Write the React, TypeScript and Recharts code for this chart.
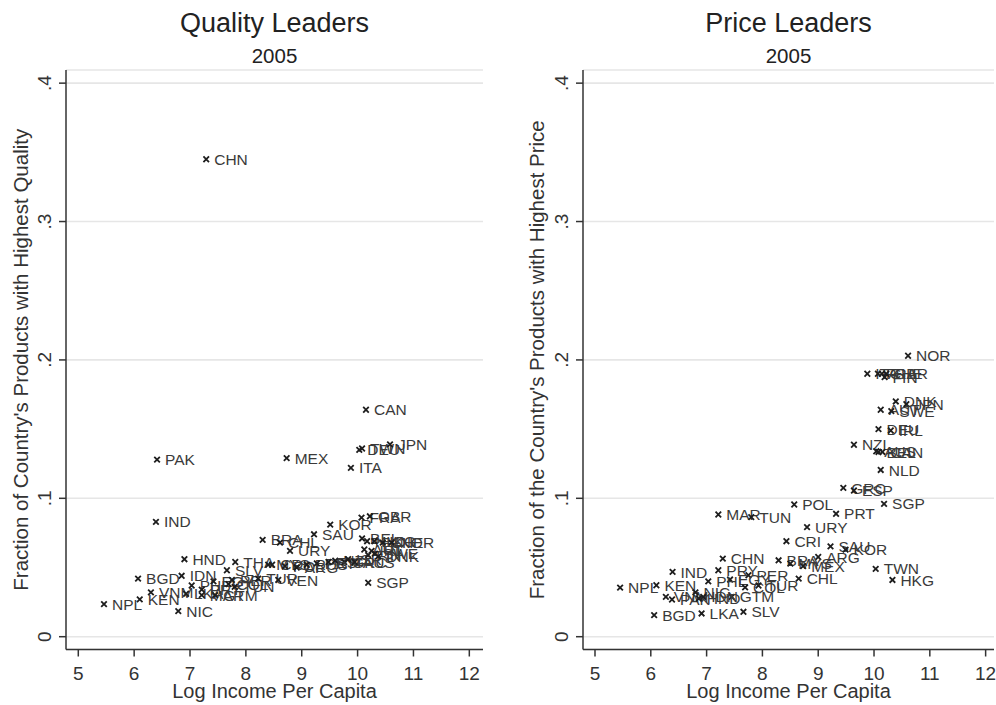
import { CartesianGrid, Scatter, ScatterChart, XAxis, YAxis } from 'recharts';

const FONT = '"Liberation Sans", Arial, Helvetica, sans-serif';

const incomeTicks = [5, 6, 7, 8, 9, 10, 11, 12];
const shareTicks = [0, 0.1, 0.2, 0.3, 0.4];

// Quality leaders, 2005
const qualityNames = [
  'CHN', 'CAN', 'PAK', 'MEX', 'DEU', 'TWN', 'JPN', 'ITA', 'IND', 'SGP', 'FRA', 'GBR', 'KOR', 'SAU', 'BRA',
  'CHL', 'URY', 'HND', 'BGD', 'IDN', 'VNM', 'KEN', 'NPL', 'NIC', 'LKA', 'MAR', 'GTM', 'PHL', 'PRY', 'EGY',
  'COL', 'PER', 'TUN', 'TUR', 'VEN', 'SLV', 'THA', 'CRI', 'MYS', 'POL', 'ARG', 'RUS', 'PRT', 'GRC', 'NZL',
  'ESP', 'ISR', 'AUS', 'BEL', 'NLD', 'HKG', 'CHE', 'NOR', 'AUT', 'IRL', 'FIN', 'SWE', 'DNK',
];
const qualityIncome = [
  7.29, 10.15, 6.41, 8.73, 10.03, 10.08, 10.58, 9.88, 6.39, 10.19, 10.07, 10.22, 9.51, 9.22, 8.3,
  8.61, 8.79, 6.9, 6.07, 6.85, 6.3, 6.1, 5.46, 6.79, 6.93, 7.21, 7.45, 7.03, 7.21, 7.42,
  7.69, 7.75, 7.8, 8.22, 8.58, 7.66, 7.81, 8.47, 8.4, 8.7, 8.91, 9.09, 9.27, 9.76, 9.6,
  9.48, 9.83, 9.95, 10.08, 10.17, 10.3, 10.45, 10.61, 10.12, 10.25, 10.19, 10.31, 10.37,
];
const qualityShare = [
  0.345, 0.164, 0.128, 0.129, 0.135, 0.136, 0.139, 0.122, 0.083, 0.039, 0.086, 0.087, 0.081, 0.074, 0.07,
  0.068, 0.062, 0.056, 0.042, 0.044, 0.032, 0.027, 0.0235, 0.0185, 0.031, 0.03, 0.03, 0.037, 0.034, 0.04,
  0.038, 0.041, 0.036, 0.042, 0.041, 0.048, 0.054, 0.052, 0.052, 0.051, 0.05, 0.052, 0.053, 0.054, 0.055,
  0.054, 0.056, 0.054, 0.071, 0.069, 0.069, 0.068, 0.068, 0.063, 0.062, 0.059, 0.06, 0.058,
];

// Price leaders, 2005
const priceNames = [
  'NOR', 'ITA', 'FRA', 'CHE', 'FIN', 'GBR', 'DNK', 'JPN', 'AUT', 'SWE', 'DEU', 'IRL', 'NZL', 'AUS', 'BEL',
  'CAN', 'NLD', 'GRC', 'ESP', 'SGP', 'POL', 'PRT', 'MAR', 'TUN', 'URY', 'CRI', 'SAU', 'KOR', 'ARG', 'BRA',
  'MYS', 'MEX', 'CHL', 'TWN', 'HKG', 'CHN', 'PRY', 'PER', 'EGY', 'PHL', 'COL', 'TUR', 'GTM', 'SLV', 'LKA',
  'NPL', 'KEN', 'IND', 'BGD', 'VNM', 'PAK', 'NIC', 'HND', 'IDN',
];
const priceIncome = [
  10.61, 9.88, 10.07, 10.14, 10.19, 10.22, 10.39, 10.58, 10.12, 10.31, 10.08, 10.3, 9.64, 10.04, 10.08,
  10.15, 10.12, 9.45, 9.64, 10.18, 8.57, 9.32, 7.21, 7.8, 8.8, 8.43, 9.22, 9.49, 9.0, 8.29,
  8.5, 8.73, 8.65, 10.03, 10.33, 7.29, 7.21, 7.75, 7.42, 7.03, 7.69, 7.93, 7.45, 7.66, 6.91,
  5.45, 6.1, 6.39, 6.06, 6.27, 6.38, 6.8, 6.86, 6.94,
];
const priceShare = [
  0.203, 0.19, 0.19, 0.19, 0.1876, 0.19, 0.17, 0.168, 0.164, 0.163, 0.15, 0.149, 0.1387, 0.134, 0.1335,
  0.1335, 0.1205, 0.1075, 0.1056, 0.096, 0.0955, 0.0888, 0.0883, 0.0864, 0.0792, 0.069, 0.0653, 0.0629, 0.0576, 0.0552,
  0.0528, 0.051, 0.042, 0.049, 0.041, 0.0564, 0.048, 0.0444, 0.0413, 0.04, 0.0356, 0.037, 0.0288, 0.018, 0.0168,
  0.0355, 0.0372, 0.0468, 0.0156, 0.0288, 0.0269, 0.032, 0.0276, 0.0288,
];

const toPoints = (names: string[], xs: number[], ys: number[]) =>
  names.map((name, i) => ({ name, income: xs[i], share: ys[i] }));

const fmtShare = (v: number) => (v === 0 ? '0' : String(v).replace(/^0\./, '.'));

function CrossLabel(props: any) {
  const { cx, cy, payload } = props;
  const s = 2.8;
  return (
    <g>
      <path
        d={`M${cx - s},${cy - s}L${cx + s},${cy + s}M${cx - s},${cy + s}L${cx + s},${cy - s}`}
        stroke="#1e1e1e"
        strokeWidth={1.8}
      />
      <text x={cx + 8} y={cy} dy="0.36em" fontSize={15.5} fill="#3a3a3a" fontFamily={FONT}>
        {payload.name}
      </text>
    </g>
  );
}

function ShareTick(props: any) {
  const { x, y, payload } = props;
  return (
    <text
      x={x}
      y={y}
      transform={`rotate(-90 ${x} ${y})`}
      textAnchor="middle"
      fontSize={19}
      fill="#333"
      fontFamily={FONT}
    >
      {fmtShare(payload.value)}
    </text>
  );
}

interface PanelProps {
  left: number;
  title: string;
  yTitle: string;
  points: { name: string; income: number; share: number }[];
  axisWidth: number;
  rightMargin: number;
  xDomain: [number, number];
  yTitleOffset: number;
}

function Panel({ left, title, yTitle, points, axisWidth, rightMargin, xDomain, yTitleOffset }: PanelProps) {
  const width = 498;
  const height = 705;
  const plotLeft = axisWidth;
  const plotRight = width - rightMargin;
  const centre = (plotLeft + plotRight) / 2;
  return (
    <div style={{ position: 'absolute', left, top: 0, width, height }}>
      <svg width={width} height={70} style={{ position: 'absolute', left: 0, top: 0 }}>
        <text x={centre} y={32} textAnchor="middle" fontSize={27} fill="#222" fontFamily={FONT}>
          {title}
        </text>
        <text x={centre} y={63} textAnchor="middle" fontSize={20.5} fill="#222" fontFamily={FONT}>
          2005
        </text>
      </svg>
      <ScatterChart
        width={width}
        height={height}
        margin={{ top: 70, right: rightMargin, bottom: 0, left: 0 }}
        style={{ fontFamily: FONT }}
      >
        <CartesianGrid vertical={false} stroke="#e6e6e6" strokeWidth={1.6} />
        <XAxis
          type="number"
          dataKey="income"
          domain={xDomain}
          allowDataOverflow
          ticks={incomeTicks}
          height={55.5}
          tickSize={7}
          tickMargin={10}
          stroke="#333"
          strokeWidth={1.5}
          tick={{ fontSize: 19, fill: '#333', fontFamily: FONT }}
          label={{
            value: 'Log Income Per Capita',
            position: 'insideBottom',
            offset: 7.5,
            fontSize: 20,
            fill: '#333',
            fontFamily: FONT,
          }}
        />
        <YAxis
          type="number"
          dataKey="share"
          domain={[-0.00925, 0.4095]}
          allowDataOverflow
          ticks={shareTicks}
          width={axisWidth}
          tickSize={7}
          tickMargin={8}
          stroke="#333"
          strokeWidth={1.5}
          tick={<ShareTick />}
          label={{
            value: yTitle,
            angle: -90,
            position: 'insideLeft',
            offset: yTitleOffset,
            fontSize: 20.5,
            fill: '#333',
            fontFamily: FONT,
            style: { textAnchor: 'middle' },
          }}
        />
        <Scatter data={points} shape={<CrossLabel />} isAnimationActive={false} />
      </ScatterChart>
    </div>
  );
}

export default function App() {
  return (
    <div style={{ position: 'absolute', left: 0, top: 0, width: 996, height: 705, background: '#fff' }}>
      <Panel
        left={0}
        title="Quality Leaders"
        yTitle="Fraction of Country's Products with Highest Quality"
        points={toPoints(qualityNames, qualityIncome, qualityShare)}
        axisWidth={66}
        rightMargin={15}
        xDomain={[4.78, 12.245]}
        yTitleOffset={21}
      />
      <Panel
        left={498}
        title="Price Leaders"
        yTitle="Fraction of the Country's Products with Highest Price"
        points={toPoints(priceNames, priceIncome, priceShare)}
        axisWidth={85}
        rightMargin={2}
        xDomain={[4.785, 12.15]}
        yTitleOffset={39}
      />
    </div>
  );
}
